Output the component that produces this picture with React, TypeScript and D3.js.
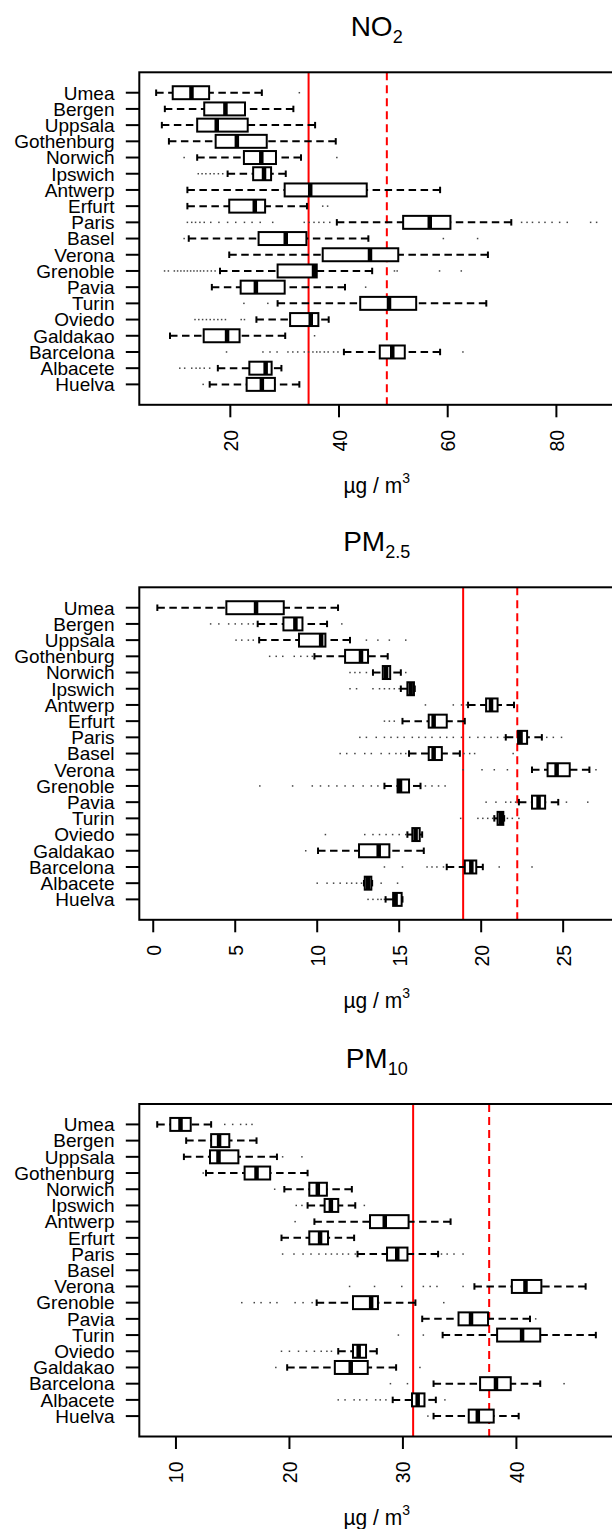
import React from "react";
import * as d3 from "d3";

type Stat = [number, number, number, number, number] | null;

const cities = [
  "Umea", "Bergen", "Uppsala", "Gothenburg", "Norwich", "Ipswich", "Antwerp",
  "Erfurt", "Paris", "Basel", "Verona", "Grenoble", "Pavia", "Turin", "Oviedo",
  "Galdakao", "Barcelona", "Albacete", "Huelva",
];

// [lower whisker, Q1, median, Q3, upper whisker]
const no2Stats: Stat[] = [
  [6.35, 9.4, 12.85, 16.1, 25.8],
  [7.95, 15.2, 19.1, 22.7, 31.6],
  [7.4, 13.9, 17.5, 23.2, 35.6],
  [8.7, 17.3, 21.2, 26.7, 39.4],
  [13.9, 22.5, 25.7, 28.4, 33.0],
  [19.5, 24.2, 26.2, 27.5, 30.2],
  [12.1, 30.0, 34.7, 45.1, 58.6],
  [12.1, 19.8, 24.5, 26.4, 34.1],
  [39.6, 51.8, 56.7, 60.5, 71.7],
  [12.35, 25.2, 30.2, 34.0, 45.4],
  [19.8, 37.0, 45.7, 50.9, 67.4],
  [18.1, 28.7, 35.4, 35.9, 46.1],
  [16.6, 21.9, 24.7, 30.0, 41.1],
  [28.7, 43.9, 49.2, 54.2, 67.1],
  [24.8, 31.0, 34.8, 36.2, 38.1],
  [8.9, 15.1, 19.4, 21.7, 30.1],
  [40.9, 47.5, 49.8, 52.1, 58.6],
  [17.7, 23.5, 26.5, 27.6, 29.4],
  [16.2, 23.0, 25.8, 28.2, 32.7],
];

const no2Outliers: number[][] = [
  [32.7],
  [],
  [],
  [],
  [11.5, 39.6],
  [14.1, 14.8, 15.5, 16.3, 17.0, 17.8, 18.6],
  [],
  [37.0, 37.9],
  [12.1, 12.9, 13.6, 14.4, 15.2, 16.4, 17.9, 19.5, 21.0, 22.6, 24.0, 25.5, 27.8,
    33.6, 34.5, 35.4, 36.3, 37.2, 38.3, 73.6, 74.6, 75.6, 76.8, 77.9, 79.2, 80.6,
    82.0, 86.3, 87.4],
  [11.5, 59.2, 65.5],
  [],
  [7.9, 8.6, 9.7, 10.3, 10.9, 11.5, 12.1, 12.7, 13.3, 13.9, 14.5, 15.1, 15.8,
    16.5, 17.2, 50.2, 50.7, 58.5, 62.5],
  [44.9],
  [22.5, 26.9],
  [13.5, 14.2, 14.9, 15.6, 16.3, 17.0, 17.7, 18.4, 19.1, 22.0, 22.6],
  [35.5],
  [19.3, 26.0, 27.3, 28.6, 30.6, 31.5, 32.4, 33.6, 34.4, 35.2, 35.9, 36.5, 37.3,
    38.0, 39.0, 39.8, 62.8],
  [10.7, 11.6, 12.9, 13.7, 14.4, 15.2, 16.2],
  [15.0],
];

const pm25Stats: Stat[] = [
  [0.25, 4.46, 6.27, 7.96, 11.27],
  [6.37, 7.94, 8.67, 9.1, 10.6],
  [6.46, 8.89, 10.24, 10.5, 12.0],
  [9.83, 11.7, 12.67, 13.1, 14.3],
  [13.4, 14.0, 14.2, 14.45, 15.1],
  [15.1, 15.5, 15.7, 15.9, 15.95],
  [19.2, 20.3, 20.6, 21.0, 22.0],
  [15.2, 16.8, 17.1, 17.9, 19.0],
  [21.5, 22.25, 22.4, 22.8, 23.7],
  [15.6, 16.8, 17.1, 17.6, 18.7],
  [23.1, 24.05, 24.6, 25.4, 26.6],
  [14.1, 14.9, 15.05, 15.6, 16.3],
  [22.3, 23.1, 23.5, 23.9, 24.7],
  [20.8, 21.0, 21.2, 21.35, 21.4],
  [15.5, 15.8, 16.0, 16.25, 16.4],
  [10.05, 12.55, 13.75, 14.4, 16.5],
  [17.9, 19.0, 19.4, 19.7, 20.1],
  [12.85, 12.9, 13.1, 13.3, 13.35],
  [14.17, 14.63, 14.78, 15.15, 15.2],
];

const pm25Outliers: number[][] = [
  [],
  [3.5, 4.0, 4.6, 5.0, 5.4, 5.8, 6.1, 11.5],
  [5.05, 5.4, 5.8, 6.1, 13.0, 13.7, 14.4, 15.4],
  [7.1, 7.5, 7.9, 8.6, 9.0, 9.4, 9.7],
  [12.0, 12.3, 12.6, 13.0, 15.4],
  [12.0, 12.4, 13.4, 13.8, 14.1, 14.4, 14.7, 15.0],
  [16.6, 18.3, 18.8, 19.1],
  [14.1, 14.4, 14.7],
  [12.6, 13.0, 13.6, 14.1, 14.5, 14.9, 15.3, 15.8, 16.2, 16.6, 17.0, 17.5, 17.9,
    18.3, 18.8, 19.3, 19.8, 20.2, 20.6, 21.0, 21.4, 24.0, 24.4, 24.9],
  [11.4, 11.8, 12.3, 12.9, 13.3, 13.9, 14.4, 14.8, 15.1, 15.4, 18.95, 19.3, 19.6, 21.95],
  [18.9, 20.05, 20.8, 21.6, 27.0],
  [6.5, 8.5, 9.7, 10.2, 10.7, 11.2, 11.7, 12.2, 12.8, 13.3, 13.7, 16.6, 17.0, 17.4, 17.8],
  [20.3, 20.9, 21.5, 21.8, 22.1, 25.2, 26.5],
  [18.75, 19.8, 20.1, 20.4, 20.7, 21.6, 21.9, 22.3],
  [10.5, 12.9, 13.4, 13.8, 14.2, 14.6, 15.0, 15.4],
  [9.3],
  [14.1, 15.2, 16.7, 17.0, 17.3, 17.7, 21.1, 23.1],
  [10.0, 10.6, 11.0, 11.4, 11.8, 12.1, 12.4, 12.7, 13.9, 14.9],
  [13.1, 13.4, 13.7, 13.9, 14.1],
];

const pm10Stats: Stat[] = [
  [8.35, 9.5, 10.4, 11.3, 13.1],
  [10.9, 13.1, 13.8, 14.7, 17.1],
  [10.7, 13.0, 13.75, 15.5, 18.9],
  [12.65, 16.05, 17.1, 18.3, 21.6],
  [19.55, 21.75, 22.5, 23.3, 25.5],
  [21.6, 23.1, 23.65, 24.3, 25.8],
  [22.2, 27.1, 28.4, 30.5, 34.2],
  [19.3, 21.75, 22.7, 23.4, 25.7],
  [26.0, 28.6, 29.5, 30.4, 33.1],
  null,
  [36.3, 39.6, 40.8, 42.2, 46.1],
  [22.4, 25.6, 27.2, 27.8, 31.1],
  [31.7, 34.9, 36.0, 37.5, 41.2],
  [33.5, 38.3, 40.5, 42.1, 47.0],
  [24.3, 25.6, 26.1, 26.75, 27.7],
  [19.8, 24.0, 25.4, 26.9, 29.4],
  [32.7, 36.8, 38.2, 39.5, 42.1],
  [29.1, 30.8, 31.3, 31.9, 32.9],
  [32.7, 35.8, 36.6, 38.0, 40.2],
];

const pm10Outliers: number[][] = [
  [14.3, 15.0, 15.7, 16.2, 16.7],
  [],
  [19.4, 21.1],
  [12.4],
  [18.7],
  [20.6, 21.1, 26.6],
  [20.5],
  [],
  [19.4, 20.4, 21.2, 21.9, 22.6, 23.2, 23.7, 24.2, 24.7, 25.2, 25.8, 33.4, 33.9, 34.5, 35.3],
  [],
  [25.3, 27.5, 29.9, 31.8, 32.4, 33.0, 35.3],
  [15.8, 16.9, 17.5, 18.3, 18.9, 20.5, 21.2, 22.0, 33.6],
  [41.7],
  [29.6, 31.8],
  [19.3, 20.0, 20.8, 21.5, 22.2, 22.8, 23.3, 23.7],
  [18.8, 31.5],
  [28.9, 30.4, 44.2],
  [24.3, 24.9, 25.7, 26.2, 26.8, 27.6, 28.0, 28.5, 33.7],
  [32.2],
];

const no2Ticks = [20, 40, 60, 80];
const pm25Ticks = [0, 5, 10, 15, 20, 25];
const pm10Ticks = [10, 20, 30, 40];

const no2Limits = [34.4, 48.8];
const pm25Limits = [18.9, 22.2];
const pm10Limits = [30.9, 37.6];

const FONT = "'Liberation Sans', Arial, Helvetica, sans-serif";
const LEFT = 139.3;
const RIGHT = 614;
const PH = 332.5;

interface PanelProps {
  top: number;
  title: string;
  sub: string;
  stats: Stat[];
  outliers: number[][];
  domain: [number, number];
  ticks: number[];
  limits: number[];
}

const Panel: React.FC<PanelProps> = ({ top, title, sub, stats, outliers, domain, ticks, limits }) => {
  const x = d3.scaleLinear().domain(domain).range([LEFT, RIGHT]);
  const n = cities.length;
  const y = d3.scaleLinear().domain([0.5 - 0.04 * n, n + 0.5 + 0.04 * n]).range([top + PH, top]);
  const bottom = top + PH;
  const half = Math.abs(y(0.4) - y(0));
  const staple = half / 2;
  const cx = (LEFT + RIGHT) / 2;

  return (
    <g>
      <text x={cx} y={top - 36} textAnchor="middle" fontFamily={FONT} fontSize={28}>
        <tspan>{title}</tspan>
        <tspan dy={7} fontSize={18}>{sub}</tspan>
      </text>

      {limits.map((v, i) => (
        <line key={i} x1={x(v)} x2={x(v)} y1={top} y2={bottom}
          stroke="#ff0000" strokeWidth={2} strokeDasharray={i === 1 ? "8,5" : undefined} />
      ))}

      {cities.map((c, i) => {
        const cy = y(n - i);
        const s = stats[i];
        return (
          <g key={c}>
            <line x1={LEFT - 13.5} x2={LEFT} y1={cy} y2={cy} stroke="#000" strokeWidth={2} />
            <text x={114.5} y={cy + 6.8} textAnchor="end" fontFamily={FONT} fontSize={19}>{c}</text>
            {outliers[i].map((v, j) => (
              <rect key={j} x={x(v) - 0.75} y={cy - 0.75} width={1.5} height={1.5} fill="#444" />
            ))}
            {s && (
              <g stroke="#000" fill="none">
                <line x1={x(s[0])} x2={x(s[1])} y1={cy} y2={cy} strokeWidth={2} strokeDasharray="7.5,4.5" />
                <line x1={x(s[4])} x2={x(s[3])} y1={cy} y2={cy} strokeWidth={2} strokeDasharray="7.5,4.5" />
                <line x1={x(s[0])} x2={x(s[0])} y1={cy - staple} y2={cy + staple} strokeWidth={2} />
                <line x1={x(s[4])} x2={x(s[4])} y1={cy - staple} y2={cy + staple} strokeWidth={2} />
                <rect x={x(s[1])} y={cy - half} width={x(s[3]) - x(s[1])} height={half * 2}
                  fill="#fff" strokeWidth={2} />
                <line x1={x(s[2])} x2={x(s[2])} y1={cy - half} y2={cy + half} strokeWidth={4.5} />
              </g>
            )}
          </g>
        );
      })}

      <rect x={LEFT} y={top} width={RIGHT - LEFT} height={PH} fill="none" stroke="#000" strokeWidth={2} />

      {ticks.map((t) => (
        <g key={t}>
          <line x1={x(t)} x2={x(t)} y1={bottom} y2={bottom + 12.5} stroke="#000" strokeWidth={2} />
          <text transform={`translate(${x(t) + 7.5},${bottom + 25}) rotate(-90)`} textAnchor="end"
            fontFamily={FONT} fontSize={19.5}>{t}</text>
        </g>
      ))}

      <text transform={`translate(${cx},${bottom + 88}) scale(1,1.08)`} textAnchor="middle"
        fontFamily={FONT} fontSize={21}>
        <tspan>µg / m</tspan>
        <tspan dy={-9} fontSize={14}>3</tspan>
      </text>
    </g>
  );
};

export default function App() {
  return (
    <svg width={612} height={1529} style={{ position: "absolute", left: 0, top: 0, display: "block", background: "#fff" }}>
      <Panel top={72.3} title="NO" sub="2" stats={no2Stats} outliers={no2Outliers}
        domain={[3.25, 90.6]} ticks={no2Ticks} limits={no2Limits} />
      <Panel top={587.3} title="PM" sub="2.5" stats={pm25Stats} outliers={pm25Outliers}
        domain={[-0.85, 28.1]} ticks={pm25Ticks} limits={pm25Limits} />
      <Panel top={1104} title="PM" sub="10" stats={pm10Stats} outliers={pm10Outliers}
        domain={[6.77, 48.6]} ticks={pm10Ticks} limits={pm10Limits} />
    </svg>
  );
}
